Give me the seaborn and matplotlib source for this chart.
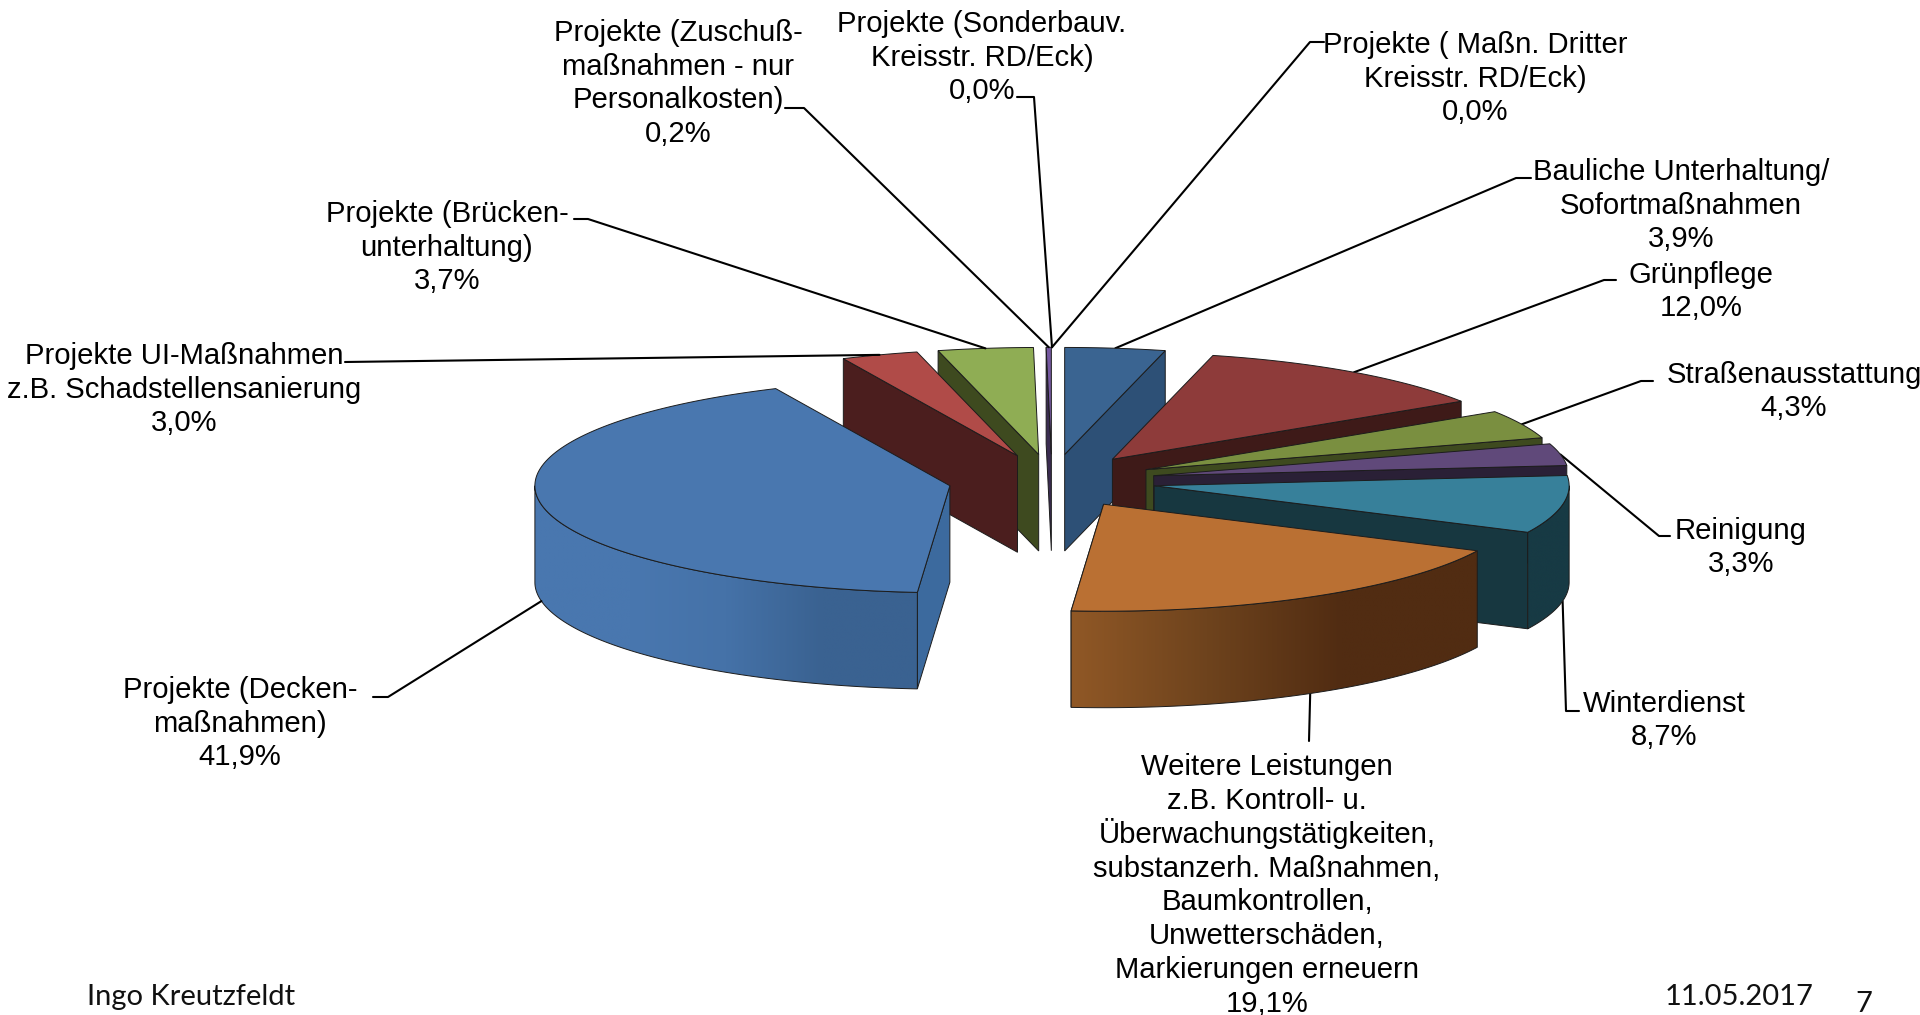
import matplotlib
import matplotlib.pyplot as plt
import numpy as np
import seaborn as sns
from matplotlib.patches import Polygon

matplotlib.use('Agg')

# Chart data, clockwise from twelve o'clock
LABELS = [
    'Bauliche Unterhaltung/\nSofortmaßnahmen',
    'Grünpflege',
    'Straßenausstattung',
    'Reinigung',
    'Winterdienst',
    'Weitere Leistungen\nz.B. Kontroll- u.\nÜberwachungstätigkeiten,\nsubstanzerh. Maßnahmen,\n'
    'Baumkontrollen,\nUnwetterschäden,\nMarkierungen erneuern',
    'Projekte (Decken-\nmaßnahmen)',
    'Projekte UI-Maßnahmen\nz.B. Schadstellensanierung',
    'Projekte (Brücken-\nunterhaltung)',
    'Projekte (Zuschuß-\nmaßnahmen - nur\nPersonalkosten)',
    'Projekte (Sonderbauv.\nKreisstr. RD/Eck)',
    'Projekte ( Maßn. Dritter\nKreisstr. RD/Eck)',
]
VALUES = [3.9, 12.0, 4.3, 3.3, 8.7, 19.1, 41.9, 3.0, 3.7, 0.2, 0.0, 0.0]

# Slice colours: top, radial face, outer wall (left to right)
TOP_COLORS = ['#3A6491', '#8E3B3A', '#7A8F40', '#60497A', '#37809A', '#BA7033',
              '#4977AF', '#B04B48', '#8FAD54', '#7558A0', '#7558A0', '#7558A0']
FACE_COLORS = ['#2D5076', '#3E1A18', '#3E4A1F', '#2A2036', '#173740', '#512C12',
               '#3C6A9E', '#4B1E1E', '#3E4A1F', '#3A2C50', '#3A2C50', '#3A2C50']
WALL_COLORS = [['#2D5076'], ['#3E1A18'], ['#3E4A1F'], ['#2A2036'], ['#173A44'],
               ['#905826', '#6E431D', '#512C12', '#512C12'],
               ['#4977AF', '#4977AF', '#4572A8', '#3A6291', '#3A6291'],
               ['#4B1E1E'], ['#3E4A1F'], ['#3A2C50'], ['#3A2C50'], ['#3A2C50']]

# Layout in pixels
CENTER_X = 1052
CENTER_Y = 481
RADIUS_X = 415
RADIUS_Y = 107
DEPTH = 96.5
EXPLODE = 0.25
EDGE = '#1c1c1c'
LINE_STEP = 33.9

# Label centre and the elbow of its leader line
LABEL_POS = [(1681, 203), (1701, 289), (1794, 389), (1741, 545), (1664, 718), (1267, 883),
             (240, 721), (184, 387), (447, 245), (678, 81), (982, 55), (1475, 76)]
ELBOWS = [[(1531, 178), (1516, 178)], [(1616, 280), (1604, 280)], [(1653, 381), (1641, 381)],
          [(1670, 536), (1659, 536)], [(1579, 711), (1566, 711)], [(1309, 741)],
          [(373, 697), (388, 697)], [(345, 362)], [(574, 219), (588, 219)],
          [(785, 108), (804, 108)], [(1017, 97), (1034, 97)], [(1324, 42), (1310, 42)]]


def z_order(i):
    # left half goes first, from the sliver down to the big slice, then the right half
    return 10 - i if i >= 6 else 20 + i


def draw_slice(ax, i, start, end):
    mid = np.radians((start + end) / 2)
    tip_x = CENTER_X + EXPLODE * RADIUS_X * np.sin(mid)
    tip_y = CENTER_Y - EXPLODE * RADIUS_Y * np.cos(mid)
    theta = np.radians(np.linspace(start, end, 120))
    xs = tip_x + RADIUS_X * np.sin(theta)
    ys = tip_y - RADIUS_Y * np.cos(theta)

    # radial face: the end side shows on the right half, the start side on the left
    k = 0 if start >= 180 else -1
    ax.fill([tip_x, xs[k], xs[k], tip_x], [tip_y, ys[k], ys[k] + DEPTH, tip_y + DEPTH],
            facecolor=FACE_COLORS[i], edgecolor=EDGE, linewidth=0.7, zorder=z_order(i))

    # outer wall, only the part turned to the viewer, shaded from left to right
    w0, w1 = max(start, 90), min(end, 270)
    if w1 > w0:
        tw = np.radians(np.linspace(w0, w1, 150))
        wx = tip_x + RADIUS_X * np.sin(tw)
        wy = tip_y - RADIUS_Y * np.cos(tw)
        order = np.argsort(wx)
        wx, wy = wx[order], wy[order]
        outline = np.c_[np.r_[wx, wx[::-1]], np.r_[wy, wy[::-1] + DEPTH]]
        wall = Polygon(outline, closed=True, facecolor='none', edgecolor=EDGE, linewidth=0.7,
                       zorder=z_order(i) + 0.1)
        ax.add_patch(wall)
        stops = WALL_COLORS[i] * 2 if len(WALL_COLORS[i]) == 1 else WALL_COLORS[i]
        shades = np.array(sns.blend_palette(stops, 256))[np.newaxis, :, :]
        img = ax.imshow(shades, extent=(wx[0], wx[-1], wy.max() + DEPTH, wy.min()), aspect='auto',
                        interpolation='bilinear', zorder=z_order(i))
        img.set_clip_path(wall)

    # top surface
    ax.fill(np.r_[tip_x, xs], np.r_[tip_y, ys], facecolor=TOP_COLORS[i], edgecolor=EDGE,
            linewidth=0.7, zorder=z_order(i) + 0.5)


def leader_anchor(start, end):
    mid = np.radians((start + end) / 2)
    x = CENTER_X + (1 + EXPLODE) * RADIUS_X * np.sin(mid)
    y = CENTER_Y - (1 + EXPLODE) * RADIUS_Y * np.cos(mid)
    # slices pointing to the viewer take the line from the lower rim
    if 90 < np.degrees(mid) < 270:
        y += DEPTH
    return x, y


if __name__ == "__main__":
    sns.set_theme(style='white')
    plt.rcParams['font.family'] = ['Liberation Sans', 'DejaVu Sans']

    fig, ax = plt.subplots(figsize=(19.2, 10.15), dpi=100)
    fig.subplots_adjust(left=0, right=1, bottom=0, top=1)

    edges = np.r_[0, np.cumsum(VALUES)] / sum(VALUES) * 360

    for i, value in enumerate(VALUES):
        start, end = edges[i], edges[i + 1]
        if value > 0:
            draw_slice(ax, i, start, end)

        x, y = leader_anchor(start, end)
        line = ELBOWS[i] + [(x, y)]
        ax.plot([p[0] for p in line], [p[1] for p in line], color='black', linewidth=1.5, zorder=5)

        # one text per line, the line height of a block would change with the umlauts
        rows = (LABELS[i] + '\n' + f"{value:.1f}".replace('.', ',') + '%').split('\n')
        for j, row in enumerate(rows):
            base_y = LABEL_POS[i][1] + (j - (len(rows) - 1) / 2) * LINE_STEP + 10.5
            ax.text(LABEL_POS[i][0], base_y, row, ha='center', va='baseline',
                    fontsize=21.1, color='black', zorder=40)

    # imshow resets the limits, so they are set after the slices
    ax.set_xlim(0, 1920)
    ax.set_ylim(1015, 0)
    ax.axis('off')

    ax.text(87, 997, 'Ingo Kreutzfeldt', family=['Lato', 'DejaVu Sans'], fontsize=21, color='#111111',
            ha='left', va='center')
    ax.text(1665, 997, '11.05.2017', family=['Lato', 'DejaVu Sans'], fontsize=21, color='#111111',
            ha='left', va='center')
    ax.text(1864, 1004, '7', family=['Lato', 'DejaVu Sans'], fontsize=21, color='#111111',
            ha='center', va='center')

    plt.savefig('out.png', dpi=100)
